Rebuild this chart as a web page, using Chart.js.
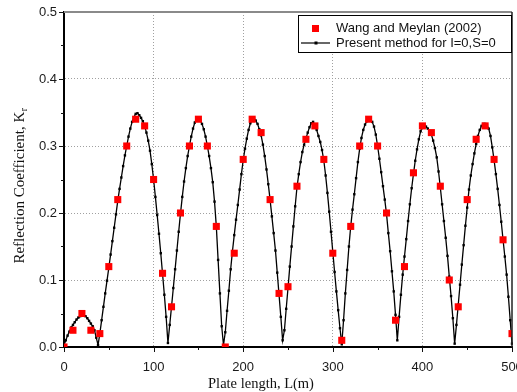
<!DOCTYPE html>
<html>
<head>
<meta charset="utf-8">
<title>Reflection coefficient vs plate length</title>
<script src="https://cdn.jsdelivr.net/npm/chart.js@4/dist/chart.umd.min.js"></script>
<style>
  html, body { margin: 0; padding: 0; background: #fff; }
  #wrap { width: 517px; height: 392px; }
</style>
</head>
<body>
<div id="wrap"><canvas id="kr" width="517" height="392"></canvas></div>
<script>
// Wang and Meylan (2002) reference points
const wangL = [0, 10, 20, 30, 40, 50, 60, 70, 80, 90, 100, 110, 120, 130, 140, 150, 160, 170, 180, 190,
  200, 210, 220, 230, 240, 250, 260, 270, 280, 290, 300, 310, 320, 330, 340, 350, 360, 370, 380, 390,
  400, 410, 420, 430, 440, 450, 460, 470, 480, 490, 500];
const wangKr = [0.0, 0.025, 0.05, 0.025, 0.02, 0.12, 0.22, 0.30, 0.34, 0.33, 0.25, 0.11, 0.06, 0.20, 0.30, 0.34, 0.30, 0.18, 0.0, 0.14,
  0.28, 0.34, 0.32, 0.22, 0.08, 0.09, 0.24, 0.31, 0.33, 0.28, 0.14, 0.01, 0.18, 0.30, 0.34, 0.30, 0.20, 0.04, 0.12, 0.26,
  0.33, 0.32, 0.24, 0.10, 0.06, 0.22, 0.31, 0.33, 0.28, 0.16, 0.02];

// present method, I=0, S=0
const presentL = [0, 2, 4, 6, 8, 10, 12, 14, 16, 18, 20, 22, 24, 26, 28, 30, 32, 34, 36, 38,
  40, 42, 44, 46, 48, 50, 52, 54, 56, 58, 60, 62, 64, 66, 68, 70, 72, 74, 76, 78,
  80, 82, 84, 86, 88, 90, 92, 94, 96, 98, 100, 102, 104, 106, 108, 110, 112, 114, 116, 118,
  120, 122, 124, 126, 128, 130, 132, 134, 136, 138, 140, 142, 144, 146, 148, 150, 152, 154, 156, 158,
  160, 162, 164, 166, 168, 170, 172, 174, 176, 178, 180, 182, 184, 186, 188, 190, 192, 194, 196, 198,
  200, 202, 204, 206, 208, 210, 212, 214, 216, 218, 220, 222, 224, 226, 228, 230, 232, 234, 236, 238,
  240, 242, 244, 246, 248, 250, 252, 254, 256, 258, 260, 262, 264, 266, 268, 270, 272, 274, 276, 278,
  280, 282, 284, 286, 288, 290, 292, 294, 296, 298, 300, 302, 304, 306, 308, 310, 312, 314, 316, 318,
  320, 322, 324, 326, 328, 330, 332, 334, 336, 338, 340, 342, 344, 346, 348, 350, 352, 354, 356, 358,
  360, 362, 364, 366, 368, 370, 372, 374, 376, 378, 380, 382, 384, 386, 388, 390, 392, 394, 396, 398,
  400, 402, 404, 406, 408, 410, 412, 414, 416, 418, 420, 422, 424, 426, 428, 430, 432, 434, 436, 438,
  440, 442, 444, 446, 448, 450, 452, 454, 456, 458, 460, 462, 464, 466, 468, 470, 472, 474, 476, 478,
  480, 482, 484, 486, 488, 490, 492, 494, 496, 498, 500];
const presentKr = [0.003, 0.010, 0.017, 0.023, 0.029, 0.033, 0.037, 0.041, 0.044, 0.046, 0.047, 0.047, 0.046, 0.043, 0.039, 0.035, 0.031, 0.025, 0.014, 0.003,
  0.020, 0.040, 0.060, 0.080, 0.099, 0.118, 0.138, 0.158, 0.178, 0.198, 0.218, 0.236, 0.253, 0.270, 0.286, 0.300, 0.314, 0.326, 0.336, 0.343,
  0.348, 0.349, 0.346, 0.342, 0.337, 0.330, 0.320, 0.308, 0.293, 0.273, 0.250, 0.224, 0.197, 0.169, 0.140, 0.109, 0.078, 0.045, 0.006, 0.033,
  0.060, 0.088, 0.116, 0.144, 0.172, 0.199, 0.224, 0.247, 0.267, 0.285, 0.300, 0.314, 0.326, 0.335, 0.341, 0.342, 0.339, 0.333, 0.325, 0.314,
  0.300, 0.285, 0.267, 0.246, 0.217, 0.180, 0.130, 0.080, 0.031, 0.003, 0.022, 0.054, 0.084, 0.116, 0.143, 0.167, 0.190, 0.212, 0.235, 0.258,
  0.279, 0.296, 0.311, 0.324, 0.334, 0.340, 0.341, 0.338, 0.333, 0.325, 0.316, 0.302, 0.285, 0.265, 0.243, 0.220, 0.195, 0.170, 0.144, 0.111,
  0.078, 0.045, 0.010, 0.025, 0.057, 0.088, 0.120, 0.150, 0.180, 0.210, 0.238, 0.258, 0.276, 0.291, 0.302, 0.311, 0.320, 0.328, 0.334, 0.336,
  0.331, 0.324, 0.315, 0.306, 0.294, 0.278, 0.256, 0.230, 0.202, 0.172, 0.142, 0.112, 0.083, 0.055, 0.028, 0.004, 0.040, 0.080, 0.115, 0.150,
  0.180, 0.205, 0.228, 0.252, 0.276, 0.296, 0.312, 0.324, 0.332, 0.337, 0.338, 0.339, 0.336, 0.329, 0.317, 0.300, 0.281, 0.261, 0.240, 0.220,
  0.198, 0.170, 0.143, 0.113, 0.083, 0.048, 0.010, 0.045, 0.078, 0.108, 0.135, 0.161, 0.188, 0.213, 0.237, 0.258, 0.278, 0.295, 0.310, 0.322,
  0.330, 0.331, 0.329, 0.326, 0.322, 0.317, 0.308, 0.297, 0.283, 0.262, 0.238, 0.213, 0.188, 0.163, 0.136, 0.105, 0.076, 0.043, 0.005, 0.033,
  0.063, 0.093, 0.123, 0.152, 0.181, 0.208, 0.235, 0.256, 0.273, 0.289, 0.303, 0.315, 0.324, 0.330, 0.333, 0.333, 0.331, 0.326, 0.315, 0.298,
  0.279, 0.258, 0.236, 0.212, 0.187, 0.160, 0.135, 0.108, 0.075, 0.040, 0.005];

const xTickLabels = ['0', '100', '200', '300', '400', '500'];
const yTickLabels = ['0.0', '0.1', '0.2', '0.3', '0.4', '0.5'];
const xMinorTicks = [50, 150, 250, 350, 450];
const yMinorTicks = [0.05, 0.15, 0.25, 0.35, 0.45];

const seriesNames = ['Wang and Meylan (2002)', 'Present method for I=0,S=0'];
const xTitle = 'Plate length, L(m)';
const yTitle = 'Reflection Coefficient, K';
const yTitleSub = 'r';

const SANS = '"Liberation Sans", Arial, sans-serif';
const SERIF = '"Liberation Serif", "Times New Roman", serif';

const toPoints = (xs, ys) => xs.map((x, i) => ({ x: x, y: ys[i] }));

// frame, minor/major tick marks, axis titles and the legend box
const decorations = {
  id: 'decorations',
  afterDraw(chart) {
    const { ctx, chartArea: a, scales: { x, y } } = chart;
    ctx.save();

    // top and right sides of the frame
    ctx.lineWidth = 2;
    ctx.strokeStyle = '#8a8a8a';
    ctx.beginPath();
    ctx.moveTo(a.left, a.top);
    ctx.lineTo(a.right, a.top);
    ctx.stroke();
    ctx.strokeStyle = '#222';
    ctx.lineWidth = 1.5;
    ctx.beginPath();
    ctx.moveTo(a.right, a.top);
    ctx.lineTo(a.right, a.bottom);
    ctx.stroke();

    // tick marks, pointing outward
    ctx.strokeStyle = '#111';
    ctx.lineWidth = 1;
    ctx.beginPath();
    x.ticks.forEach(t => {
      const px = Math.round(x.getPixelForValue(t.value)) + 0.5;
      ctx.moveTo(px, a.bottom); ctx.lineTo(px, a.bottom + 5);
    });
    xMinorTicks.forEach(v => {
      const px = Math.round(x.getPixelForValue(v)) + 0.5;
      ctx.moveTo(px, a.bottom); ctx.lineTo(px, a.bottom + 3);
    });
    y.ticks.forEach(t => {
      const py = Math.round(y.getPixelForValue(t.value)) + 0.5;
      ctx.moveTo(a.left, py); ctx.lineTo(a.left - 5, py);
    });
    yMinorTicks.forEach(v => {
      const py = Math.round(y.getPixelForValue(v)) + 0.5;
      ctx.moveTo(a.left, py); ctx.lineTo(a.left - 3, py);
    });
    ctx.stroke();

    // axis titles
    ctx.fillStyle = '#111';
    ctx.font = '14.5px ' + SERIF;
    ctx.textAlign = 'center';
    ctx.textBaseline = 'alphabetic';
    ctx.fillText(xTitle, 261, 388);

    ctx.translate(24, 186);
    ctx.rotate(-Math.PI / 2);
    ctx.textAlign = 'left';
    ctx.font = '15px ' + SERIF;
    const mainW = ctx.measureText(yTitle).width;
    ctx.font = '10px ' + SERIF;
    const subW = ctx.measureText(yTitleSub).width;
    const start = -(mainW + subW) / 2;
    ctx.font = '15px ' + SERIF;
    ctx.fillText(yTitle, start, 0);
    ctx.font = '10px ' + SERIF;
    ctx.fillText(yTitleSub, start + mainW + 0.5, 3);
    ctx.setTransform(1, 0, 0, 1, 0, 0);

    // legend
    const lx = 298.5, ly = 15.5, lw = 213, lh = 37;
    ctx.fillStyle = '#fff';
    ctx.fillRect(lx, ly, lw, lh);
    ctx.strokeStyle = '#000';
    ctx.lineWidth = 1;
    ctx.strokeRect(lx, ly, lw, lh);

    const row1 = 28.5, row2 = 43;
    ctx.fillStyle = '#ff0000';
    ctx.fillRect(312, row1 - 3.5, 7, 7);
    ctx.strokeStyle = '#000';
    ctx.lineWidth = 1.2;
    ctx.beginPath();
    ctx.moveTo(301, row2); ctx.lineTo(330, row2);
    ctx.stroke();
    ctx.fillStyle = '#000';
    ctx.fillRect(314.5, row2 - 1.5, 3, 3);

    ctx.font = '13px ' + SANS;
    ctx.textAlign = 'left';
    ctx.textBaseline = 'middle';
    ctx.fillStyle = '#111';
    ctx.fillText(seriesNames[0], 336, row1);
    ctx.fillText(seriesNames[1], 336, row2);

    ctx.restore();
  }
};

new Chart(document.getElementById('kr'), {
  type: 'scatter',
  plugins: [decorations],
  data: {
    datasets: [
      {
        label: seriesNames[0],
        data: toPoints(wangL, wangKr),
        showLine: false,
        pointStyle: 'rect',
        pointRadius: 5,
        pointBorderWidth: 0,
        pointBackgroundColor: '#ff0000',
        backgroundColor: '#ff0000',
        clip: 0,
      },
      {
        label: seriesNames[1],
        data: toPoints(presentL, presentKr),
        showLine: true,
        borderColor: '#000',
        borderWidth: 1.3,
        tension: 0,
        pointStyle: 'rect',
        pointRadius: 1.7,
        pointBorderWidth: 0,
        pointBackgroundColor: '#000',
        clip: 1,
      },
    ],
  },
  options: {
    responsive: false,
    animation: false,
    events: [],
    layout: { padding: { left: 0, right: 5, top: 12, bottom: 0 } },
    plugins: {
      legend: { display: false },
      tooltip: { enabled: false },
    },
    scales: {
      x: {
        type: 'linear',
        min: 0,
        max: 500,
        afterFit(scale) {
          scale.height = 45;
          scale.paddingLeft = 0;
          scale.paddingRight = 0;
        },
        grid: {
          color: c => (c.tick && c.tick.value > 0 && c.tick.value < 500) ? '#a0a0a0' : 'rgba(0,0,0,0)',
          lineWidth: 1,
          drawTicks: true,
          tickLength: 6,
          tickColor: 'rgba(0,0,0,0)',
        },
        border: { display: true, color: '#000', width: 2, dash: [1, 2] },
        ticks: {
          stepSize: 100,
          autoSkip: false,
          maxRotation: 0,
          padding: 7,
          color: '#1a1a1a',
          font: { family: SANS, size: 13 },
          callback: (v, i) => xTickLabels[i],
        },
      },
      y: {
        type: 'linear',
        min: 0,
        max: 0.5,
        afterFit(scale) {
          scale.width = 64;
        },
        grid: {
          color: c => (c.tick && c.tick.value > 0.01 && c.tick.value < 0.49) ? '#a0a0a0' : 'rgba(0,0,0,0)',
          lineWidth: 1,
          drawTicks: true,
          tickLength: 5,
          tickColor: 'rgba(0,0,0,0)',
        },
        border: { display: true, color: '#000', width: 2, dash: [1, 2] },
        ticks: {
          stepSize: 0.1,
          autoSkip: false,
          padding: 2,
          color: '#1a1a1a',
          font: { family: SANS, size: 13 },
          callback: (v, i) => yTickLabels[i],
        },
      },
    },
  },
});
</script>
</body>
</html>
